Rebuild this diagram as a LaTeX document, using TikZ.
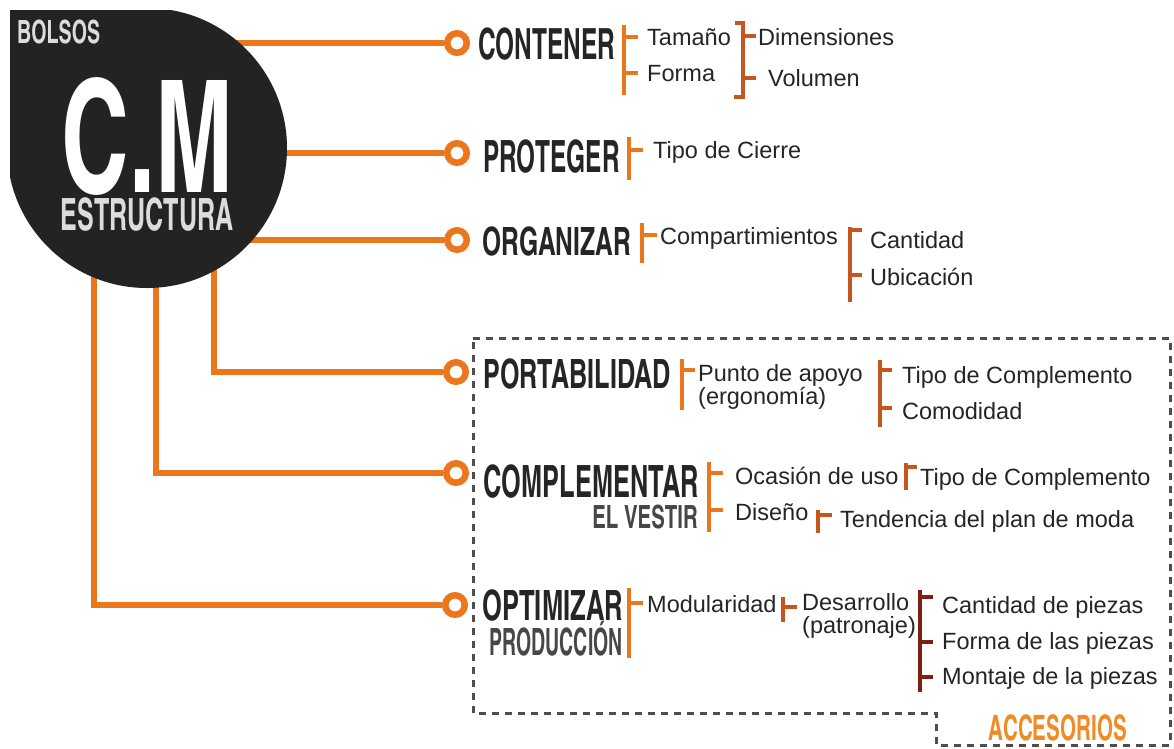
\documentclass[tikz,border=0pt]{standalone}
\usepackage{fontspec}
\setmainfont{Liberation Sans}
\newfontfamily\headfont{texgyreheroscn-bold.otf}[FakeStretch=0.72]
\newcommand\squeeze[2]{\scalebox{#1}[1]{#2}}
\definecolor{orng}{RGB}{236,118,28}
\definecolor{brk2}{RGB}{196,86,30}
\definecolor{brk3}{RGB}{128,30,18}
\definecolor{accorng}{RGB}{240,140,40}
\definecolor{hubfill}{RGB}{35,35,35}
\definecolor{ink}{RGB}{37,37,37}
\definecolor{subgray}{RGB}{71,71,71}
\definecolor{dashgray}{RGB}{77,77,77}
\definecolor{lightgray}{RGB}{220,220,220}
\begin{document}
\begin{tikzpicture}[x=1pt,y=-1pt,
  hd/.style={font=\headfont\fontsize{#1}{#1}\selectfont,text=ink,inner sep=0pt},
  tx/.style={font=\fontsize{23.5}{22}\selectfont,text=ink,inner sep=0pt,anchor=base west},
  ring/.style={circle,draw=orng,line width=6.5pt,fill=white,minimum size=19.5pt,inner sep=0pt},
  link/.style={orng,line width=6.5pt},
  bra/.style={orng,line width=4.2pt},
  brb/.style={brk2,line width=4.2pt},
  brc/.style={brk3,line width=4.2pt}]
  \useasboundingbox (0,0) rectangle (1174,748);
  \draw[dashgray,line width=3pt,dash pattern=on 7pt off 6pt] (473,338) -- (1170,338) -- (1170,745) -- (936,745) -- (936,713) -- (473,713) -- cycle;
  \node[ring] (r1) at (457,43) {};
  \node[ring] (r2) at (457,153) {};
  \node[ring] (r3) at (457,240) {};
  \node[ring] (r4) at (456,372) {};
  \node[ring] (r5) at (456,473) {};
  \node[ring] (r6) at (455,605) {};
  \coordinate (hc) at (147,148);
  \coordinate (h4) at (214,148);
  \coordinate (h5) at (156,148);
  \coordinate (h6) at (94,148);
  \draw[link] (hc |- r1) -- (r1);
  \draw[link] (hc |- r2) -- (r2);
  \draw[link] (hc |- r3) -- (r3);
  \draw[link] (h4) |- (r4);
  \draw[link] (h5) |- (r5);
  \draw[link] (h6) |- (r6);
  \begin{scope}
    \clip (10,10) rectangle (300,300);
    \fill[hubfill] (147,148) circle[radius=140];
    \fill[hubfill] (0,0) rectangle (147,148);
  \end{scope}
  \node[hd=32,text=lightgray,anchor=base west] (bolsos) at (17,43) {\squeeze{1.04}{BOLSOS}};
  \node[hd=156,text=white,anchor=base] (hub) at (148,192) {\squeeze{1.02}{C.M}};
  \node[hd=44.5,text=lightgray,anchor=base] (estructura) at (147,230) {\squeeze{0.955}{ESTRUCTURA}};

  \node[hd=43,anchor=base west] (contener) at (478,59) {\squeeze{0.965}{CONTENER}};
  \node[hd=44.5,anchor=base west] (proteger) at (483,172) {\squeeze{0.93}{PROTEGER}};
  \node[hd=39,anchor=base west] (organizar) at (482,255) {\squeeze{1.07}{ORGANIZAR}};
  \node[hd=40.4,anchor=base west] (portabilidad) at (483,388) {\squeeze{1.056}{PORTABILIDAD}};
  \node[hd=44.5,anchor=base west] (complementar) at (483,497) {\squeeze{0.968}{COMPLEMENTAR}};
  \node[hd=32,text=subgray,anchor=base east] (vestir) at (698,528) {\squeeze{1.08}{EL VESTIR}};
  \node[hd=41.8,anchor=base west] (optimizar) at (482,620) {\squeeze{1.04}{OPTIMIZAR}};
  \node[hd=37.6,text=subgray,anchor=base east] (produccion) at (623,655) {\squeeze{0.88}{PRODUCCIÓN}};
  \node[hd=35,text=accorng,anchor=base] (accesorios) at (1058,740) {ACCESORIOS};

  \node[tx] (tamano) at (647,45) {Tamaño};
  \node[tx] (forma) at (647,81) {Forma};
  \node[tx] (dimensiones) at (758,45) {Dimensiones};
  \node[tx] (volumen) at (768,86) {Volumen};
  \node[tx] (cierre) at (653,158) {Tipo de Cierre};
  \node[tx] (compart) at (660,244) {Compartimientos};
  \node[tx] (cantidad) at (870,248) {Cantidad};
  \node[tx] (ubicacion) at (870,285) {Ubicación};
  \node[tx] (apoyo) at (698,381) {\begin{tabular}[t]{@{}l@{}}Punto de apoyo\\(ergonomía)\end{tabular}};
  \node[tx] (tipocomp) at (902,383) {Tipo de Complemento};
  \node[tx] (comodidad) at (902,419) {Comodidad};
  \node[tx] (ocasion) at (735,484) {Ocasión de uso};
  \node[tx] (diseno) at (735,520) {Diseño};
  \node[tx] (tipocomp2) at (920,485) {Tipo de Complemento};
  \node[tx] (tendencia) at (840,527) {Tendencia del plan de moda};
  \node[tx] (modular) at (647,612) {Modularidad};
  \node[tx] (desarrollo) at (802,610) {\begin{tabular}[t]{@{}l@{}}Desarrollo\\(patronaje)\end{tabular}};
  \node[tx] (cantpiezas) at (942,613) {Cantidad de piezas};
  \node[tx] (formapiezas) at (942,649) {Forma de las piezas};
  \node[tx] (montaje) at (942,684) {Montaje de la piezas};

  \draw[bra] (624,25) -- (624,95) (624,37) -- (638,37) (624,73) -- (638,73);
  \draw[brb] (735,23) -- (743,23) -- (743,97) -- (734,97) (743,36) -- (756,36) (743,78) -- (756,78);
  \draw[bra] (629,137) -- (629,180) (629,150) -- (643,150);
  \draw[bra] (642,223) -- (642,263) (642,235) -- (657,235);
  \draw[brb] (850,227) -- (850,302) (850,230) -- (862,230) (850,275) -- (862,275);
  \draw[bra] (682,359) -- (682,410) (682,370) -- (695,370);
  \draw[brb] (880,360) -- (880,427) (880,370) -- (892,370) (880,408) -- (892,408);
  \draw[bra] (709,462) -- (709,532) (709,473) -- (723,473) (709,510) -- (723,510);
  \draw[brb] (906,463) -- (906,490) (906,467) -- (917,467);
  \draw[brb] (818,510) -- (818,533) (818,515) -- (832,515);
  \draw[bra] (629,588) -- (629,658) (629,603) -- (643,603);
  \draw[brb] (783,597) -- (783,622) (783,607) -- (797,607);
  \draw[brc] (920,590) -- (920,692) (920,597) -- (933,597) (920,642) -- (933,642) (920,677) -- (933,677);
\end{tikzpicture}
\end{document}
